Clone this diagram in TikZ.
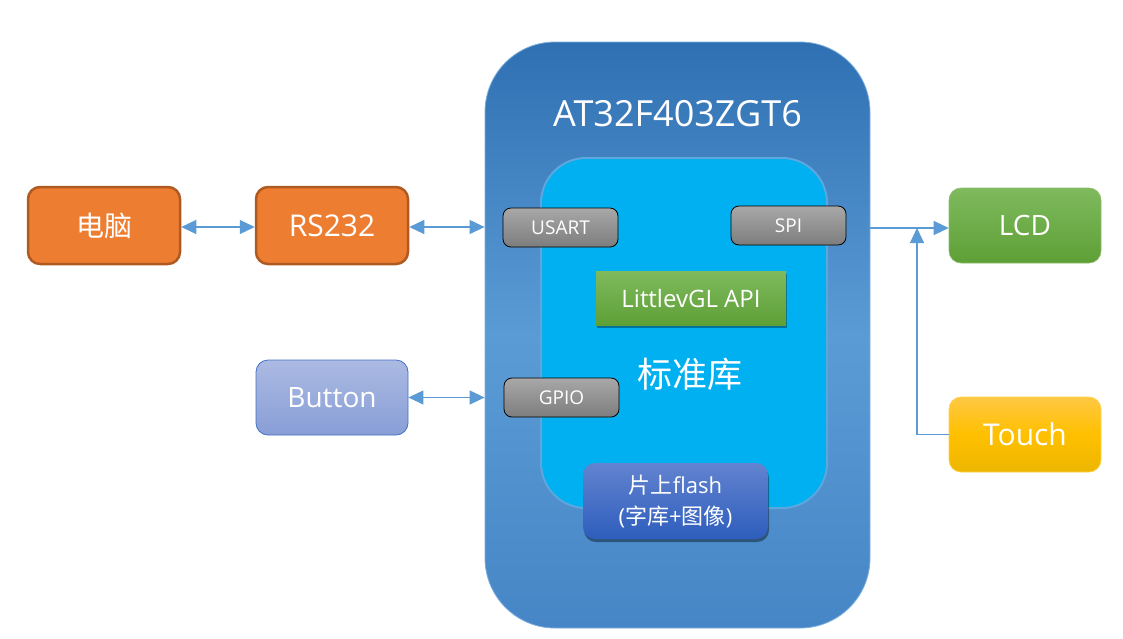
\documentclass[tikz,border=0pt]{standalone}
\usepackage{fontspec}
\setmainfont{Open Sans}
\newfontfamily\cjk{Noto Sans CJK SC}
\usetikzlibrary{arrows.meta,shadows,calc}
\definecolor{mcuTop}{HTML}{2F70B3}
\definecolor{mcuMid}{HTML}{5B9BD5}
\definecolor{mcuBot}{HTML}{4686C6}
\definecolor{inner}{HTML}{00B0F0}
\definecolor{innerBorder}{HTML}{5DA6DE}
\definecolor{grayTop}{HTML}{A8A8A8}
\definecolor{grayBot}{HTML}{7D7D7D}
\definecolor{orangeF}{HTML}{ED7D31}
\definecolor{orangeD}{HTML}{AE5A21}
\definecolor{btnTop}{HTML}{ABBAE2}
\definecolor{btnBot}{HTML}{889ED6}
\definecolor{btnD}{HTML}{4472C4}
\definecolor{greenTop}{HTML}{7FBA5E}
\definecolor{greenBot}{HTML}{5E9F36}
\definecolor{greenD}{HTML}{70AD47}
\definecolor{yelTop}{HTML}{FFC844}
\definecolor{yelMid}{HTML}{FFC000}
\definecolor{yelBot}{HTML}{EDB600}
\definecolor{flTop}{HTML}{6283CF}
\definecolor{flBot}{HTML}{2E5DBD}
\definecolor{arrowC}{HTML}{5B9BD5}
\tikzset{
  box/.style={rectangle, rounded corners=12pt, text=white, inner sep=0pt, align=center},
  orangebox/.style={box, fill=orangeF, draw=orangeD, line width=2.5pt, font=\fontsize{30}{34}\selectfont},
  graybox/.style={box, rounded corners=8pt, top color=grayTop, bottom color=grayBot, draw=black, line width=0.8pt,
     minimum width=115pt, minimum height=39pt, font=\fontsize{19}{22}\selectfont},
  link/.style={draw=arrowC, line width=1.2pt},
  tip/.style={-{Triangle[length=15pt,width=14pt]}},
  tips/.style={{Triangle[length=15pt,width=14pt]}-{Triangle[length=15pt,width=14pt]}},
}
\begin{document}
\begin{tikzpicture}[x=1pt,y=-1pt]
\useasboundingbox (0,0) rectangle (1123,638);
% MCU
\node[box, rounded corners=70pt, minimum width=385pt, minimum height=586pt,
      top color=mcuTop, bottom color=mcuBot, middle color=mcuMid, draw=mcuMid!80!white, line width=0.8pt] (mcu) at (677.5,335) {};
\node[text=white, font=\fontsize{36}{40}\selectfont] (title) at (677.5,114) {AT32F403ZGT6};
% inner library
\node[box, rounded corners=45pt, minimum width=286pt, minimum height=350pt,
      fill=inner, draw=innerBorder, line width=2pt] (inner) at (684,333) {};
\node[text=white, font=\cjk\fontsize{35}{38}\selectfont] (lib) at (690,374) {标准库};
% peripherals
\node[graybox] (usart) at (560.5,227.5) {USART};
\node[graybox] (spi) at (788.5,225.5) {SPI};
\node[graybox] (gpio) at (561.5,397.5) {GPIO};
\node[rectangle, top color=greenTop, bottom color=greenBot, text=white, minimum width=190pt, minimum height=54pt,
      drop shadow={shadow xshift=1pt, shadow yshift=-3pt, opacity=0.35, fill=black},
      font=\fontsize{24}{28}\selectfont] (lvgl) at (691,298) {LittlevGL API};
\node[box, top color=flTop, bottom color=flBot, minimum width=185pt, minimum height=76pt,
      drop shadow={shadow xshift=1pt, shadow yshift=-3pt, opacity=0.4, fill=black},
      font=\fontsize{22}{31}\selectfont] (flash) at (675.5,501) {{\cjk 片上}flash\\({\cjk 字库}+{\cjk 图像})};
% left
\node[orangebox, minimum width=152pt, minimum height=77pt, font=\cjk\fontsize{28}{32}\selectfont] (pc) at (104,225.5) {电脑};
\node[orangebox, minimum width=152pt, minimum height=77pt] (rs) at (332,225.5) {RS232};
\node[box, top color=btnTop, bottom color=btnBot, draw=btnD, line width=0.8pt, minimum width=152pt, minimum height=75pt,
      font=\fontsize{28}{32}\selectfont] (btn) at (332,397.5) {Button};
% right
\node[box, top color=greenTop, bottom color=greenBot, draw=greenD!80!white, line width=0.6pt, minimum width=152pt, minimum height=75pt,
      font=\fontsize{28}{32}\selectfont] (lcd) at (1025,225.5) {LCD};
\node[box, top color=yelTop, bottom color=yelBot, middle color=yelMid, draw=yelMid!70!white, line width=0.6pt, minimum width=152pt, minimum height=75pt,
      font=\fontsize{30}{34}\selectfont] (touch) at (1025,434.5) {Touch};
% connectors
\draw[link, tips] ([yshift=-1.5pt]pc.east) -- ([yshift=-1.5pt]rs.west);
\draw[link, tips] ([yshift=-1.5pt]rs.east) -- ([yshift=-1.5pt]rs.east -| mcu.west);
\draw[link, tips] (btn.east) -- (btn.east -| mcu.west);
\draw[link, tip] ([yshift=-2.5pt]spi.east -| mcu.east) -- ([yshift=-2.5pt]lcd.west);
\coordinate (tj) at (917,228);
\draw[link, tip] (touch.west) -- (touch.west -| tj) -- (tj);
\end{tikzpicture}
\end{document}
